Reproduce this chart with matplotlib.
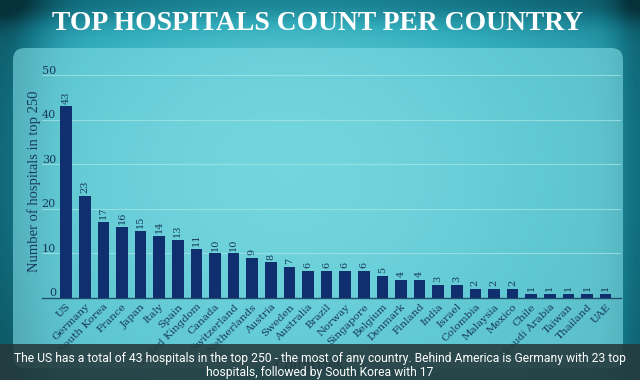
import numpy as np
import matplotlib
matplotlib.use("Agg")
import matplotlib.pyplot as plt
from matplotlib.patches import FancyBboxPatch, Rectangle
from matplotlib.colors import LinearSegmentedColormap
import matplotlib.transforms as mtransforms

countries = ["US", "Germany", "South Korea", "France", "Japan", "Italy", "Spain",
             "United Kingdom", "Canada", "Switzerland", "Netherlands", "Austria",
             "Sweden", "Australia", "Brazil", "Norway", "Singapore", "Belgium",
             "Denmark", "Finland", "India", "Israel", "Colombia", "Malaysia",
             "Mexico", "Chile", "Saudi Arabia", "Taiwan", "Thailand", "UAE"]
hospitals = [43, 23, 17, 16, 15, 14, 13, 11, 10, 10, 9, 8, 7, 6, 6, 6, 6, 5,
             4, 4, 3, 3, 2, 2, 2, 1, 1, 1, 1, 1]
y_ticks = [0, 10, 20, 30, 40, 50]

title = "TOP HOSPITALS COUNT PER COUNTRY"
caption = ("The US has a total of 43 hospitals in the top 250 - the most of any country. "
           "Behind America is Germany with 23 top\nhospitals, followed by South Korea with 17")

W, H = 640, 380
fig = plt.figure(figsize=(W / 100, H / 100), dpi=100)
renderer = fig.canvas.get_renderer()


def fit_size(txt, target_px, axis="width"):
    fs = txt.get_fontsize()
    for _ in range(3):
        bb = txt.get_window_extent(renderer=renderer)
        cur = bb.width if axis == "width" else bb.height
        fs = fs * target_px / cur
        txt.set_fontsize(fs)


# background
bg = fig.add_axes([0, 0, 1, 1], zorder=0)
bg.set_xlim(0, W)
bg.set_ylim(H, 0)
bg.axis("off")
xx, yy = np.meshgrid(np.linspace(0, 1, 160), np.linspace(0, 1, 95))
glow = np.exp(-(((xx - 0.45) / 0.45) ** 2 + ((yy - 0.45) / 0.6) ** 2))
left_dark = np.exp(-((xx - 0.0) / 0.07) ** 2)
right_dark = np.exp(-((xx - 1.0) / 0.04) ** 2)
val = 0.45 + 0.5 * glow - 0.35 * left_dark - 0.25 * right_dark - 0.3 * np.exp(-(yy / 0.06) ** 2)
val = np.clip(val, 0, 1)
cmap = LinearSegmentedColormap.from_list("teal", ["#06323b", "#137485", "#32acbb", "#68d3dc"])
bg.imshow(val, cmap=cmap, extent=(0, W, H, 0), aspect="auto", interpolation="bilinear", vmin=0, vmax=1)

panel = FancyBboxPatch((13, 48), 610, 320, boxstyle="round,pad=0,rounding_size=12",
                       facecolor="#80dce3", edgecolor="none", alpha=0.6)
bg.add_patch(panel)

t = bg.text(318, 23, title, color="white", fontsize=26, fontweight="bold",
            family=["Liberation Serif", "DejaVu Serif"], ha="center", va="center")
fit_size(t, 530)

# main chart
ax = fig.add_axes([42 / W, 1 - 298 / H, (621 - 42) / W, (298 - 73) / H], zorder=2)
ax.set_facecolor("none")
x = np.arange(len(countries))
ax.bar(x, hospitals, width=0.62, color="#0f2f6f", zorder=3)
ax.set_xlim(-1.3, len(countries) - 0.17)
ax.set_ylim(0, 50.5)
ax.set_yticks(y_ticks)
ax.grid(axis="y", color="#a8e6ea", linewidth=0.8, alpha=0.7, zorder=0)
for s in ["top", "right", "left"]:
    ax.spines[s].set_visible(False)
ax.spines["bottom"].set_color("#1f4f6a")
ax.spines["bottom"].set_linewidth(1.0)

tick_font = dict(family="DejaVu Serif", fontsize=7.5, color="#173a5c")
ax.set_xticks(x)
ax.set_xticklabels(countries, rotation=45, ha="right", rotation_mode="anchor", **tick_font)
ax.tick_params(axis="x", length=0, pad=3)
ax.tick_params(axis="y", length=0, pad=-10)
for lab in ax.get_yticklabels():
    lab.set_family("DejaVu Serif")
    lab.set_fontsize(8)
    lab.set_color("#173a5c")
    lab.set_transform(lab.get_transform() + mtransforms.ScaledTranslation(0, 4 / 72, fig.dpi_scale_trans))

for xi, v in zip(x, hospitals):
    ax.annotate(str(v), (xi, v), xytext=(0, 2), textcoords="offset points",
                rotation=90, ha="center", va="bottom", fontsize=7,
                family="DejaVu Serif", color="#173a5c")

yl = ax.set_ylabel("Number of hospitals in top 250", family=["Liberation Serif", "DejaVu Serif"],
                   fontsize=11, color="#173a5c", labelpad=0)
ax.yaxis.set_label_coords(-1 / (621 - 42), (298 - 181) / (298 - 73))
fit_size(yl, 183, axis="height")
ax.set_xlabel("Countries", family="DejaVu Serif", fontsize=10, color="#173a5c")
ax.xaxis.set_label_coords(0.46, -0.27)

# caption band
cap = fig.add_axes([0, 0, 1, 1], zorder=5)
cap.set_xlim(0, W)
cap.set_ylim(H, 0)
cap.axis("off")
cap.set_facecolor("none")
cap.add_patch(Rectangle((0, 344), W, 36, facecolor="#25393b", alpha=0.88, edgecolor="none"))
c = cap.text(320, 365.5, caption, color="white", fontsize=9.6, family="Roboto",
             ha="center", va="center", linespacing=1.15)
fit_size(c, 610)

fig.savefig("out.png", dpi=100)
